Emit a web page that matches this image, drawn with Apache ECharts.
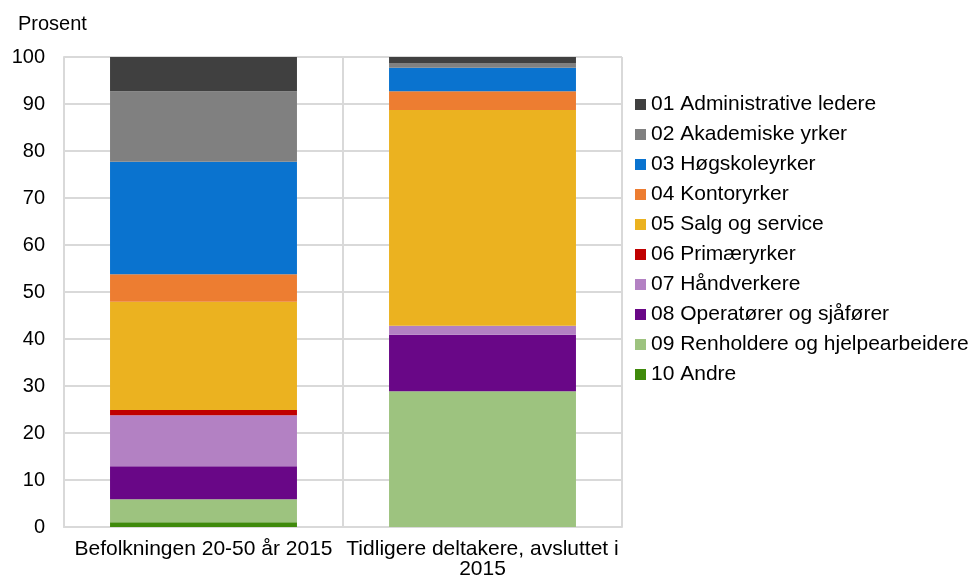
<!DOCTYPE html>
<html>
<head>
<meta charset="utf-8">
<script src="https://cdn.jsdelivr.net/npm/echarts@6/dist/echarts.min.js"></script>
<style>
  html, body { margin: 0; padding: 0; background: #fff; }
  #chart { width: 976px; height: 576px; }
</style>
</head>
<body>
<div id="chart"></div>
<script>
// Yrkesfordeling (prosent) for to grupper
const categories = ['Befolkningen 20-50 år 2015', 'Tidligere deltakere, avsluttet i\n2015'];

const seriesNames = [
  '01 Administrative ledere',
  '02 Akademiske yrker',
  '03 Høgskoleyrker',
  '04 Kontoryrker',
  '05 Salg og service',
  '06 Primæryrker',
  '07 Håndverkere',
  '08 Operatører og sjåfører',
  '09 Renholdere og hjelpearbeidere',
  '10 Andre'
];

const adminLedere   = [7.3, 1.3];
const akademiske    = [15.0, 1.0];
const hogskole      = [23.9, 5.0];
const kontor        = [5.9, 4.0];
const salgService   = [23.0, 45.9];
const primaer       = [1.1, 0];
const handverkere   = [10.9, 1.9];
const operatorer    = [7.0, 12.0];
const renholdere    = [4.9, 28.9];
const andre         = [1.0, 0];

const yTicks = [0, 10, 20, 30, 40, 50, 60, 70, 80, 90, 100];

const colors = ['#404040', '#808080', '#0A73CF', '#ED7D31', '#EBB220',
                '#C00000', '#B381C3', '#690787', '#9DC37F', '#3F8A0B'];
const values = [adminLedere, akademiske, hogskole, kontor, salgService,
                primaer, handverkere, operatorer, renholdere, andre];

// Stack from "10 Andre" at the bottom up to "01" at the top
const series = [];
for (let i = seriesNames.length - 1; i >= 0; i--) {
  series.push({
    name: seriesNames[i],
    type: 'bar',
    stack: 'total',
    barCategoryGap: '33%',
    itemStyle: { color: colors[i] },
    data: values[i]
  });
}

const chart = echarts.init(document.getElementById('chart'));
chart.setOption({
  animation: false,
  textStyle: { fontFamily: 'Liberation Sans, Arial, sans-serif' },
  title: {
    text: 'Prosent',
    left: 13, top: 9,
    textStyle: { fontSize: 20, fontWeight: 'normal', color: '#000' }
  },
  grid: { left: 64, right: 354, top: 57, bottom: 49, containLabel: false, outerBoundsMode: 'none' },
  legend: {
    orient: 'vertical',
    left: 635, top: 94,
    padding: 0,
    data: seriesNames,
    icon: 'rect',
    itemWidth: 11, itemHeight: 11,
    itemGap: 9,
    itemStyle: { borderWidth: 0 },
    textStyle: { fontSize: 21, color: '#000', lineHeight: 21 }
  },
  xAxis: {
    type: 'category',
    data: categories,
    axisLine: { lineStyle: { color: '#D9D9D9', width: 2 } },
    axisTick: { show: false },
    splitLine: { show: true, lineStyle: { color: '#D9D9D9', width: 2 } },
    axisLabel: {
      color: '#000', fontSize: 21, margin: 12, lineHeight: 20,
      interval: 0, hideOverlap: false
    }
  },
  yAxis: {
    type: 'value',
    min: yTicks[0], max: yTicks[yTicks.length - 1], interval: 10,
    axisLine: { show: true, lineStyle: { color: '#D9D9D9', width: 2 } },
    axisTick: { show: false },
    splitLine: { lineStyle: { color: '#D9D9D9', width: 2 } },
    axisLabel: { color: '#000', fontSize: 20, margin: 19 }
  },
  series: series
});
</script>
</body>
</html>
